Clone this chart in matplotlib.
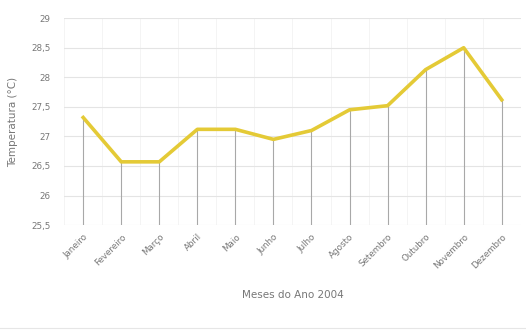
import numpy as np
import matplotlib.pyplot as plt

meses = ['Janeiro', 'Fevereiro', 'Março', 'Abril', 'Maio', 'Junho', 'Julho',
         'Agosto', 'Setembro', 'Outubro', 'Novembro', 'Dezembro']
temperatura = [27.32, 26.57, 26.57, 27.12, 27.12, 26.95, 27.1,
               27.45, 27.52, 28.13, 28.5, 27.62]
y_ticks = [25.5, 26, 26.5, 27, 27.5, 28, 28.5, 29]
y_labels = ['25,5', '26', '26,5', '27', '27,5', '28', '28,5', '29']

txt = '#777777'
fig = plt.figure(figsize=(5.26, 3.31), dpi=100)
ax = fig.add_axes([0.122, 0.32, 0.868, 0.625])

x = np.arange(len(meses))
ax.set_xlim(-0.5, len(meses) - 0.5)
ax.set_ylim(25.5, 29)

# linhas verticais de queda
ax.vlines(x, 25.5, temperatura, color='#a8a8a8', lw=0.8, zorder=2)
# grade vertical clara entre categorias
for xi in np.arange(-0.5, len(meses)):
    ax.axvline(xi, color='#f2f2f2', lw=0.6, zorder=0)
ax.plot(x, temperatura, color='#e4ca36', lw=2.6, solid_joinstyle='round', zorder=3)

ax.set_yticks(y_ticks)
ax.set_yticklabels(y_labels)
ax.yaxis.grid(True, color='#e4e4e4', lw=0.8)
ax.set_axisbelow(True)
ax.set_xticks(x)
ax.set_xticklabels(meses, rotation=45, ha='right', rotation_mode='anchor')
ax.tick_params(length=0, labelsize=6.3, colors=txt)
ax.tick_params(axis='x', pad=5)
ax.tick_params(axis='y', pad=10)
for s in ax.spines.values():
    s.set_visible(False)

ax.set_ylabel('Temperatura (°C)', fontsize=7.5, color=txt, labelpad=9)
ax.set_xlabel('Meses do Ano 2004', fontsize=7.5, color=txt, labelpad=14)

fig.add_artist(plt.Line2D([0.0, 1.0], [0.01, 0.01], color='#e6e6e6', lw=0.8))

fig.savefig('out.png', dpi=100)
